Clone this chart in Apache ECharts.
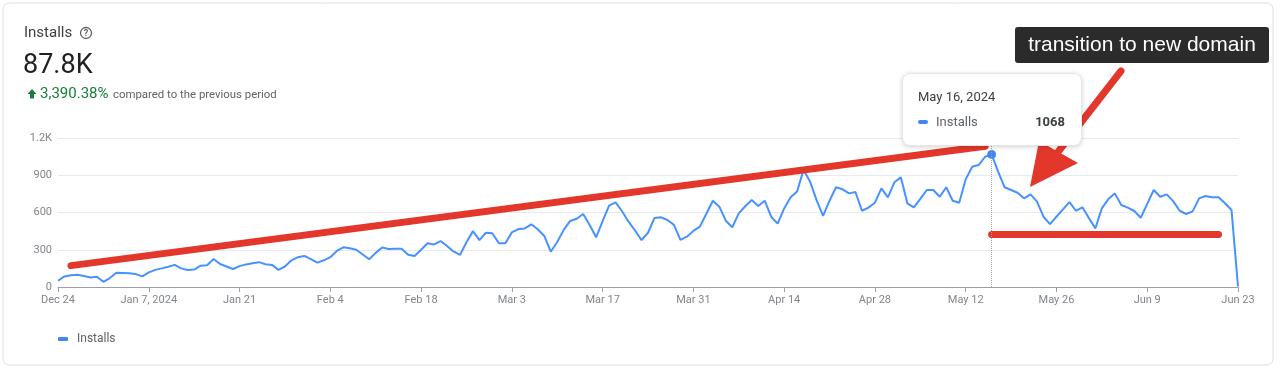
<!DOCTYPE html>
<html>
<head>
<meta charset="utf-8">
<script src="https://cdn.jsdelivr.net/npm/echarts@6/dist/echarts.min.js"></script>
<style>
html,body{margin:0;padding:0;background:#fff;}
#chart{width:1280px;height:369px;}
</style>
</head>
<body>
<div id="chart"></div>
<script>
// ---- data ----
const startDate = [2023, 11, 24]; // Dec 24, 2023
const tickLabels = ["Dec 24","Jan 7, 2024","Jan 21","Feb 4","Feb 18","Mar 3","Mar 17","Mar 31","Apr 14","Apr 28","May 12","May 26","Jun 9","Jun 23"];
const installs = [
50,85,95,98,88,76,82,42,72,115,
113,110,104,86,118,138,150,163,178,150,
137,140,172,175,225,185,165,145,168,182,
192,200,183,178,138,165,215,240,250,225,
196,215,240,290,320,312,300,262,223,275,
318,306,308,308,260,250,300,352,343,370,
330,286,258,360,450,378,437,432,352,352,
440,467,472,505,465,411,284,362,460,532,
550,588,500,400,530,655,682,610,526,455,
378,437,556,561,540,500,380,405,452,486,
590,695,647,534,481,593,650,700,652,695,
566,510,633,722,770,945,848,700,572,695,
803,787,754,765,614,639,679,794,722,843,
883,674,642,710,781,781,727,803,695,679,
867,969,982,1049,1068,930,803,781,759,714,
746,687,566,507,566,625,684,614,642,555,
472,633,708,754,660,639,612,558,670,781,
727,746,692,614,588,609,714,733,722,722,
674,620,5
];
const yTicks = [0, 300, 600, 900, 1200];
const highlightIndex = 144; // May 16, 2024
const trendLine = [[2, 172], [143, 1133]];
const floorLine = [[144, 427], [179, 427]];

// categories (daily dates)
const monthNames = ["Jan","Feb","Mar","Apr","May","Jun","Jul","Aug","Sep","Oct","Nov","Dec"];
const categories = installs.map((_, i) => {
  const d = new Date(startDate[0], startDate[1], startDate[2] + i);
  return monthNames[d.getMonth()] + " " + d.getDate() + ", " + d.getFullYear();
});

const blue = '#4285f4';
const red = '#e3372c';
const font = 'Roboto, "Noto Sans", sans-serif';

const chart = echarts.init(document.getElementById('chart'), null, {renderer: 'canvas'});
const option = {
  animation: false,
  textStyle: {fontFamily: font},
  grid: {left: 58, right: 42, top: 138, bottom: 82, containLabel: false},
  legend: {
    left: 53, top: 328,
    icon: 'roundRect', itemWidth: 10, itemHeight: 4, itemGap: 8,
    textStyle: {color: '#5f6368', fontSize: 12, fontFamily: font, padding: [0, 0, 0, 4]},
    data: ['Installs']
  },
  tooltip: {
    trigger: 'axis',
    triggerOn: 'none',
    alwaysShowContent: true,
    transitionDuration: 0,
    position: [902, 73],
    backgroundColor: '#fff',
    borderColor: '#e6e6e6',
    borderWidth: 1,
    padding: [13, 15],
    extraCssText: 'box-shadow:0 1px 5px rgba(0,0,0,0.18);border-radius:8px;',
    axisPointer: {type: 'line', lineStyle: {color: '#9aa0a6', type: 'dotted', width: 1}},
    formatter: function (params) {
      const p = params[0];
      return '<div style="font-family:Roboto,sans-serif;font-size:13px;color:#3c4043;width:148px;line-height:20px">' +
        '<div style="margin-bottom:5px">' + p.name + '</div>' +
        '<div style="display:flex;align-items:center">' +
        '<span style="display:inline-block;width:10px;height:4px;border-radius:2px;background:' + blue + ';margin-right:8px"></span>' +
        '<span style="color:#5f6368">Installs</span>' +
        '<span style="margin-left:auto;margin-right:1px;font-weight:bold;color:#3c4043">' + p.value + '</span></div></div>';
    }
  },
  xAxis: {
    type: 'category',
    data: categories,
    boundaryGap: false,
    axisLine: {lineStyle: {color: '#9aa0a6'}},
    axisTick: {show: true, interval: 13, length: 5, lineStyle: {color: '#9aa0a6'}},
    axisLabel: {
      interval: 13, color: '#80868b', fontSize: 11, margin: 8,
      formatter: function (v, i) { return tickLabels[Math.round(i / 14)] || ''; }
    },
    splitLine: {show: false}
  },
  yAxis: {
    type: 'value',
    min: 0, max: 1200, interval: 300,
    axisLine: {show: false},
    axisTick: {show: false},
    axisLabel: {
      color: '#80868b', fontSize: 11, margin: 6,
      formatter: function (v) { return v >= 1000 ? (v / 1000).toFixed(1) + 'K' : String(v); }
    },
    splitLine: {lineStyle: {color: '#e8eaed'}}
  },
  series: [{
    name: 'Installs',
    type: 'line',
    data: installs,
    showSymbol: false,
    symbol: 'circle',
    symbolSize: 8,
    lineStyle: {color: blue, width: 2},
    itemStyle: {color: blue},
    emphasis: {scale: false, itemStyle: {color: blue, borderColor: blue}},
    markLine: {
      silent: true,
      symbol: ['none', 'none'],
      label: {show: false},
      animation: false,
      lineStyle: {color: red, width: 7, type: 'solid', cap: 'round', opacity: 1},
      emphasis: {disabled: true},
      data: [
        [{coord: trendLine[0]}, {coord: trendLine[1]}],
        [{coord: floorLine[0]}, {coord: floorLine[1]}]
      ]
    }
  }],
  graphic: [
    {type: 'rect', shape: {x: 3, y: 3, width: 1270, height: 362, r: 6}, style: {fill: 'none', stroke: '#dadce0', lineWidth: 1}, silent: true, z: -10},
    {type: 'text', x: 24, y: 33, style: {text: 'Installs', fontSize: 15, fontFamily: font, fill: '#3c4043', verticalAlign: 'middle'}},
    {type: 'circle', shape: {cx: 86, cy: 33, r: 5.5}, style: {fill: 'none', stroke: '#5f6368', lineWidth: 1.3}},
    {type: 'text', x: 86, y: 33.5, style: {text: '?', fontSize: 9, fontWeight: 'bold', fontFamily: font, fill: '#5f6368', align: 'center', verticalAlign: 'middle'}},
    {type: 'text', x: 23, y: 66, style: {text: '87.8K', fontSize: 27, fontFamily: font, fill: '#202124', verticalAlign: 'middle'}},
    {type: 'polygon', shape: {points: [[32, 89], [36.5, 94], [34, 94], [34, 98.5], [30, 98.5], [30, 94], [27.5, 94]]}, style: {fill: '#188038'}},
    {type: 'text', x: 40, y: 94, style: {text: '3,390.38%', fontSize: 15, fontFamily: font, fill: '#188038', verticalAlign: 'middle'}},
    {type: 'text', x: 113, y: 95, style: {text: 'compared to the previous period', fontSize: 11.4, fontFamily: font, fill: '#5f6368', verticalAlign: 'middle'}},
    // annotation: label box
    {type: 'rect', shape: {x: 1015, y: 27, width: 254, height: 36, r: 3}, style: {fill: '#2b2b2b'}, z: 20},
    {type: 'text', x: 1142, y: 45, z: 21, style: {text: 'transition to new domain', fontSize: 21, fontFamily: '"Liberation Sans", Arial, sans-serif', fill: '#ffffff', align: 'center', verticalAlign: 'middle'}},
    // annotation: arrow
    {type: 'line', shape: {x1: 1121, y1: 71, x2: 1058, y2: 152}, style: {stroke: red, lineWidth: 7, lineCap: 'round'}, z: 20},
    {type: 'polygon', shape: {points: [[1030, 187], [1078, 163], [1039, 141]]}, style: {fill: red}, z: 20}
  ]
};
chart.setOption(option);
chart.dispatchAction({type: 'showTip', seriesIndex: 0, dataIndex: highlightIndex});
</script>
</body>
</html>
